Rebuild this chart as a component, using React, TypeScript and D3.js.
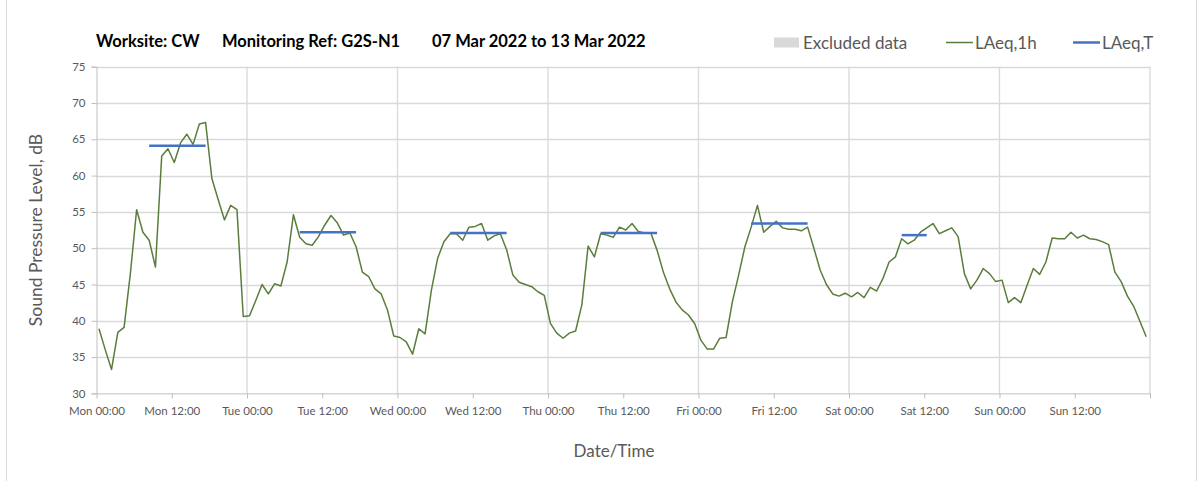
import { useEffect, useRef } from 'react'
import * as d3 from 'd3'

// hourly LAeq,1h values, one array per day (00:00 .. 23:00)
const MON = [38.9, 36.0, 33.3, 38.4, 39.1, 46.5, 55.3, 52.2, 51.1, 47.4, 62.7, 63.7, 61.8, 64.5, 65.7, 64.3, 67.1, 67.3, 59.6, 56.7, 53.9, 55.9, 55.3, 40.6]
const TUE = [40.7, 42.8, 45.0, 43.7, 45.1, 44.8, 48.1, 54.6, 51.5, 50.6, 50.4, 51.6, 53.2, 54.5, 53.5, 51.8, 52.1, 50.2, 46.7, 46.1, 44.4, 43.7, 41.5, 37.9]
const WED = [37.7, 37.1, 35.4, 38.9, 38.2, 44.2, 48.6, 50.9, 52.0, 52.0, 51.1, 52.9, 53.0, 53.4, 51.1, 51.7, 52.0, 49.8, 46.3, 45.3, 45.0, 44.7, 44.0, 43.5]
const THU = [39.6, 38.3, 37.6, 38.3, 38.6, 42.2, 50.3, 48.8, 52.0, 51.8, 51.5, 52.9, 52.5, 53.4, 52.3, 52.1, 52.1, 49.7, 46.7, 44.4, 42.6, 41.5, 40.8, 39.6]
const FRI = [37.3, 36.1, 36.1, 37.6, 37.7, 42.6, 46.3, 50.2, 52.9, 55.9, 52.2, 53.0, 53.7, 52.8, 52.6, 52.6, 52.4, 52.9, 50.0, 47.0, 45.0, 43.7, 43.4, 43.8]
const SAT = [43.3, 43.9, 43.2, 44.6, 44.1, 45.8, 48.1, 48.8, 51.3, 50.6, 51.1, 52.2, 52.8, 53.4, 52.0, 52.4, 52.8, 51.6, 46.5, 44.4, 45.6, 47.2, 46.5, 45.4]
const SUN = [45.6, 42.5, 43.2, 42.5, 44.9, 47.2, 46.4, 48.1, 51.4, 51.3, 51.3, 52.2, 51.4, 51.8, 51.3, 51.2, 50.9, 50.5, 46.7, 45.4, 43.4, 42.0, 39.9, 37.8]

const DAYS = ['Mon', 'Tue', 'Wed', 'Thu', 'Fri', 'Sat', 'Sun']

// LAeq,T periods: day index, first hour, last hour, level
const LAEQ_T = [
  { day: 0, from: 8, to: 17, value: 64.1 },
  { day: 1, from: 8, to: 17, value: 52.2 },
  { day: 2, from: 8, to: 17, value: 52.1 },
  { day: 3, from: 8, to: 17, value: 52.1 },
  { day: 4, from: 8, to: 17, value: 53.4 },
  { day: 5, from: 8, to: 12, value: 51.8 },
]

const Y_TICKS = [30, 35, 40, 45, 50, 55, 60, 65, 70, 75]

const TITLE = [
  { text: 'Worksite: CW', x: 96 },
  { text: 'Monitoring Ref: G2S-N1', x: 222 },
  { text: '07 Mar 2022 to 13 Mar 2022', x: 432 },
]

const colors = {
  green: '#5a7d3c',
  blue: '#4472c4',
  grid: '#d9d9d9',
  axis: '#bfbfbf',
  text: '#595959',
  excluded: '#d9d9d9',
}
const FONT = 'Lato, "Open Sans", sans-serif'
const OFFSET = 0.4 // points sit a little after the hour

export default function App() {
  const ref = useRef<SVGSVGElement>(null)
  useEffect(() => {
    if (!ref.current) return
    d3.select(ref.current).selectAll('*').remove()
    render(ref.current)
  }, [])
  return (
    <div style={{ position: 'absolute', left: 0, top: 0 }}>
      <svg ref={ref} width={1203} height={481} style={{ display: 'block' }} />
    </div>
  )
}

function render(el: SVGSVGElement) {
  const W = 1203
  const H = 481
  const svg = d3.select(el).attr('viewBox', `0 0 ${W} ${H}`).style('font-family', FONT)

  svg.append('rect').attr('width', W).attr('height', H).attr('fill', '#fff')
  // chart border
  svg.append('rect')
    .attr('x', 6.5).attr('y', -5).attr('width', 1190).attr('height', 500)
    .attr('fill', 'none').attr('stroke', '#d9d9d9')

  const x = d3.scaleLinear().domain([0, 168]).range([96.5, 1150])
  const y = d3.scaleLinear().domain([30, 75]).range([393.4, 66.7])

  // horizontal grid
  svg.append('g')
    .selectAll('line')
    .data(Y_TICKS.slice(1))
    .join('line')
    .attr('x1', x(0)).attr('x2', x(168))
    .attr('y1', (d) => Math.round(y(d)) + 0.5).attr('y2', (d) => Math.round(y(d)) + 0.5)
    .attr('stroke', colors.grid).attr('stroke-width', 1.3)

  // vertical grid, one per day
  svg.append('g')
    .selectAll('line')
    .data(d3.range(24, 169, 24))
    .join('line')
    .attr('x1', (d) => x(d)).attr('x2', (d) => x(d))
    .attr('y1', y(75)).attr('y2', y(30))
    .attr('stroke', colors.grid).attr('stroke-width', 1.3)

  // y axis
  const yAxis = svg.append('g')
    .attr('transform', `translate(${x(0)},0)`)
    .call(d3.axisLeft(y).tickValues(Y_TICKS).tickSize(5).tickPadding(6).tickFormat(d3.format('d')))
  yAxis.select('.domain').attr('stroke', colors.axis)
  yAxis.selectAll('line').attr('stroke', colors.axis)
  yAxis.selectAll('text').attr('font-size', 11.5).attr('fill', colors.text).attr('font-family', FONT)

  // x axis, labels every 12 h
  const xAxis = svg.append('g')
    .attr('transform', `translate(0,${y(30)})`)
    .call(
      d3.axisBottom(x)
        .tickValues(d3.range(0, 169, 12))
        .tickSize(5)
        .tickSizeOuter(0)
        .tickPadding(8)
        .tickFormat((d) => {
          const h = +d
          if (h >= 168) return ''
          return `${DAYS[Math.floor(h / 24)]} ${h % 24 === 0 ? '00:00' : '12:00'}`
        })
    )
  xAxis.select('.domain').attr('stroke', colors.axis)
  xAxis.selectAll('line').attr('stroke', colors.axis)
  xAxis.selectAll('text').attr('font-size', 11.5).attr('fill', colors.text).attr('font-family', FONT)

  // LAeq,1h line
  const series = [MON, TUE, WED, THU, FRI, SAT, SUN].flat()
  const line = d3.line<number>().x((_, i) => x(i + OFFSET)).y((d) => y(d))
  svg.append('path')
    .attr('d', line(series))
    .attr('fill', 'none')
    .attr('stroke', colors.green)
    .attr('stroke-width', 1.5)
    .attr('stroke-linejoin', 'round')

  // LAeq,T lines
  svg.append('g')
    .selectAll('line')
    .data(LAEQ_T)
    .join('line')
    .attr('x1', (d) => x(d.day * 24 + d.from + OFFSET))
    .attr('x2', (d) => x(d.day * 24 + d.to + OFFSET))
    .attr('y1', (d) => y(d.value))
    .attr('y2', (d) => y(d.value))
    .attr('stroke', colors.blue)
    .attr('stroke-width', 2.5)

  // title
  svg.append('g')
    .selectAll('text')
    .data(TITLE)
    .join('text')
    .attr('x', (d) => d.x)
    .attr('y', 47)
    .attr('font-size', 16.5)
    .attr('font-weight', 700)
    .attr('fill', '#000')
    .text((d) => d.text)

  // legend
  const lg = svg.append('g').attr('font-size', 17).attr('fill', colors.text)
  lg.append('rect').attr('x', 774).attr('y', 37.5).attr('width', 25).attr('height', 10).attr('fill', colors.excluded)
  lg.append('text').attr('x', 803).attr('y', 48.5).text('Excluded data')
  lg.append('line').attr('x1', 946).attr('x2', 973).attr('y1', 42.5).attr('y2', 42.5)
    .attr('stroke', colors.green).attr('stroke-width', 1.5)
  lg.append('text').attr('x', 975).attr('y', 48.5).text('LAeq,1h')
  lg.append('line').attr('x1', 1073).attr('x2', 1100).attr('y1', 42.5).attr('y2', 42.5)
    .attr('stroke', colors.blue).attr('stroke-width', 2.5)
  lg.append('text').attr('x', 1102).attr('y', 48.5).text('LAeq,T')

  // axis titles
  svg.append('text')
    .attr('x', 614).attr('y', 457)
    .attr('text-anchor', 'middle')
    .attr('font-size', 17)
    .attr('fill', colors.text)
    .text('Date/Time')

  svg.append('text')
    .attr('transform', `translate(42,${(y(75) + y(30)) / 2}) rotate(-90)`)
    .attr('text-anchor', 'middle')
    .attr('font-size', 17.5)
    .attr('fill', colors.text)
    .text('Sound Pressure Level, dB')
}
